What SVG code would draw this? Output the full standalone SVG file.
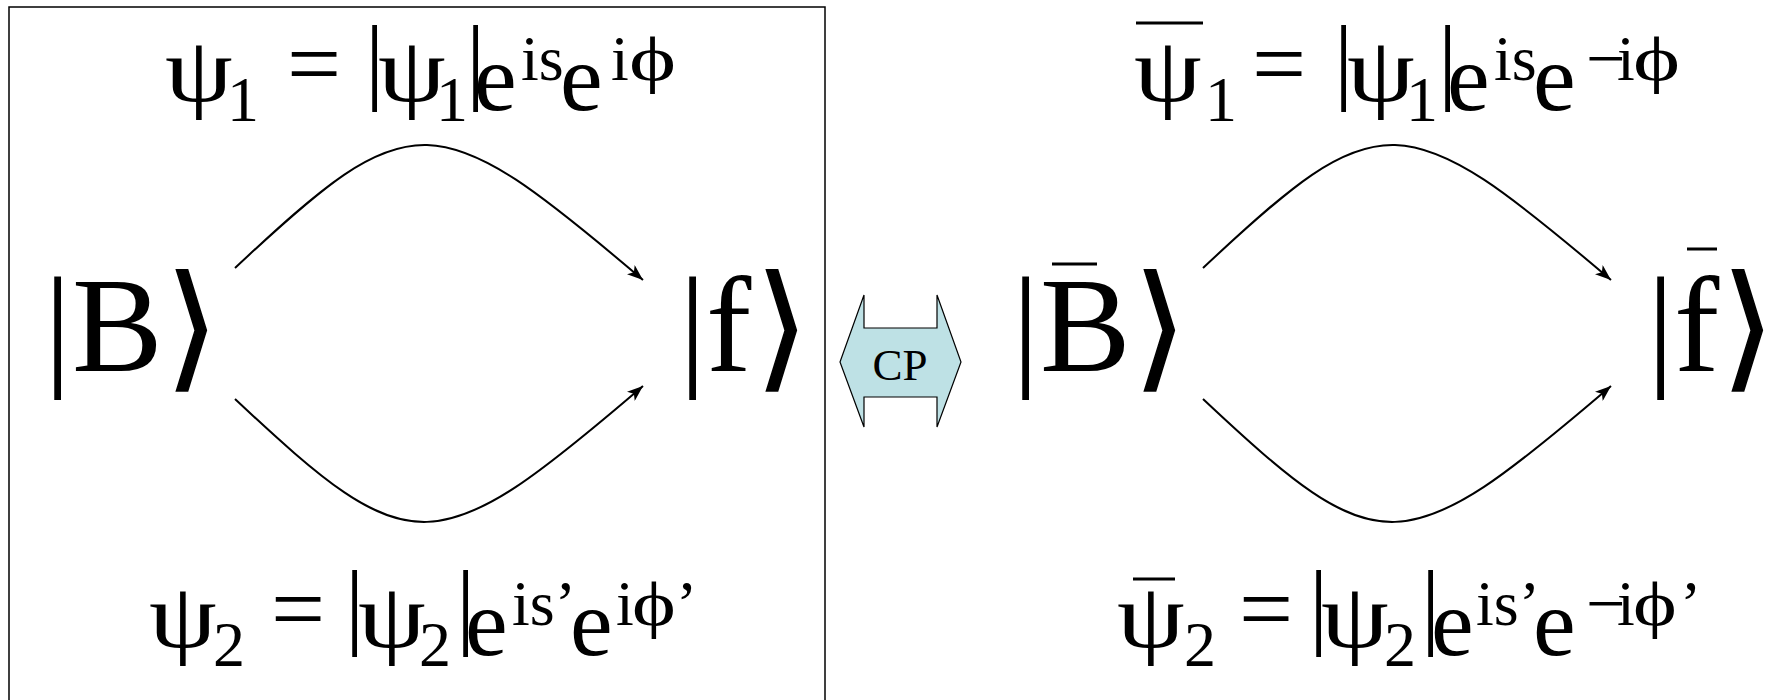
<svg xmlns="http://www.w3.org/2000/svg" width="1776" height="700" viewBox="0 0 1776 700">
<style>
.t{font-family:"Liberation Serif","Times New Roman",serif;fill:#000}
.m{font-size:96px}
.p{font-size:90px}
.s{font-size:64px}
.big{font-size:136px}
.br{font-family:"DejaVu Serif","DejaVu Sans",serif;font-size:136px;fill:#000;stroke:#000;stroke-width:1.5}
.ol{stroke:#000;stroke-width:3}
.c{fill:none;stroke:#000;stroke-width:2}
</style>
<defs>
<marker id="ah" viewBox="0 0 16 12" refX="16" refY="6" markerWidth="16" markerHeight="12" markerUnits="userSpaceOnUse" orient="auto">
<path d="M0,0 L16,6 L0,12 L4,6 z" fill="#000"/>
</marker>
</defs>
<rect x="9" y="7" width="816" height="720" fill="none" stroke="#000" stroke-width="1.5"/>
<g id="psi1">
<text class="t p" transform="translate(165,101) scale(1.2,1)">ψ</text>
<text class="t s" x="227" y="121">1</text>
<text class="t m" x="287" y="96">=</text>
<text class="t m" x="365" y="92">|</text>
<text class="t p" transform="translate(378,101) scale(1.2,1)">ψ</text>
<text class="t s" x="436" y="121">1</text>
<text class="t m" x="466" y="92">|</text>
<text class="t m" x="474" y="110">e</text>
<text class="t s" x="521" y="80">is</text>
<text class="t m" x="560" y="110">e</text>
<text class="t s" x="611" y="80">i</text>
<text class="t s" transform="translate(629,80) scale(1.4,1)">ϕ</text>
</g>
<g id="psi1bar">
<line class="ol" x1="1136" y1="23" x2="1203" y2="23"/>
<text class="t p" transform="translate(1134,101) scale(1.2,1)">ψ</text>
<text class="t s" x="1205" y="121">1</text>
<text class="t m" x="1252" y="96">=</text>
<text class="t m" x="1334" y="92">|</text>
<text class="t p" transform="translate(1347,101) scale(1.2,1)">ψ</text>
<text class="t s" x="1406" y="121">1</text>
<text class="t m" x="1438" y="92">|</text>
<text class="t m" x="1447" y="110">e</text>
<text class="t s" x="1494" y="80">is</text>
<text class="t m" x="1533" y="110">e</text>
<text class="t" font-size="70" x="1586" y="82">−</text>
<text class="t s" x="1617" y="80">i</text>
<text class="t s" transform="translate(1633,80) scale(1.4,1)">ϕ</text>
</g>
<g id="psi2">
<text class="t p" transform="translate(149,647) scale(1.2,1)">ψ</text>
<text class="t s" x="213" y="666">2</text>
<text class="t m" x="271" y="641">=</text>
<text class="t m" x="345" y="637">|</text>
<text class="t p" transform="translate(358,647) scale(1.2,1)">ψ</text>
<text class="t s" x="419" y="666">2</text>
<text class="t m" x="456" y="637">|</text>
<text class="t m" x="465" y="655">e</text>
<text class="t s" x="512" y="625">is’</text>
<text class="t m" x="570" y="655">e</text>
<text class="t s" x="616" y="625">i</text>
<text class="t s" transform="translate(632,625) scale(1.3,1)">ϕ</text>
<text class="t s" x="676" y="625">’</text>
</g>
<g id="psi2bar">
<line class="ol" x1="1133" y1="579" x2="1175" y2="579"/>
<text class="t p" transform="translate(1117,647) scale(1.2,1)">ψ</text>
<text class="t s" x="1184" y="666">2</text>
<text class="t m" x="1239" y="641">=</text>
<text class="t m" x="1309" y="637">|</text>
<text class="t p" transform="translate(1321,647) scale(1.2,1)">ψ</text>
<text class="t s" x="1384" y="666">2</text>
<text class="t m" x="1421" y="637">|</text>
<text class="t m" x="1431" y="655">e</text>
<text class="t s" x="1476" y="625">is’</text>
<text class="t m" x="1533" y="655">e</text>
<text class="t" font-size="70" x="1586" y="627">−</text>
<text class="t s" x="1617" y="625">i</text>
<text class="t s" transform="translate(1633,625) scale(1.3,1)">ϕ</text>
<text class="t s" x="1680" y="625">’</text>
</g>
<g id="B">
<text class="t big" x="44" y="371">|</text>
<text class="t big" x="72" y="371">B</text>
<text class="br" x="192" y="373" text-anchor="middle">⟩</text>
</g>
<g id="f">
<text class="t big" x="679" y="371">|</text>
<text class="t big" x="706" y="371">f</text>
<text class="br" x="782" y="373" text-anchor="middle">⟩</text>
</g>
<g id="Bbar">
<text class="t big" x="1012" y="371">|</text>
<text class="t big" x="1040" y="371">B</text>
<line class="ol" x1="1052" y1="264" x2="1097" y2="264"/>
<text class="br" x="1160" y="373" text-anchor="middle">⟩</text>
</g>
<g id="fbar">
<text class="t big" x="1647" y="371">|</text>
<text class="t big" x="1674" y="371">f</text>
<line class="ol" x1="1687" y1="249" x2="1717" y2="249"/>
<text class="br" x="1748" y="373" text-anchor="middle">⟩</text>
</g>
<g id="cp">
<path d="M840,362 L864,295 L864,328 L937,328 L937,295 L961,362 L937,427 L937,397 L864,397 L864,427 Z" fill="#bee1e5" stroke="#000" stroke-width="1.2"/>
<text class="t" x="900" y="380" text-anchor="middle" font-size="45">CP</text>
</g>
<g id="connectors">
<path class="c" d="M235,268 C412,102 434,102 643,280" marker-end="url(#ah)"/>
<path class="c" d="M235,399 C412,565 434,565 643,386" marker-end="url(#ah)"/>
<path class="c" d="M1203,268 C1380,102 1402,102 1611,280" marker-end="url(#ah)"/>
<path class="c" d="M1203,399 C1380,565 1402,565 1611,386" marker-end="url(#ah)"/>
</g>
</svg>
